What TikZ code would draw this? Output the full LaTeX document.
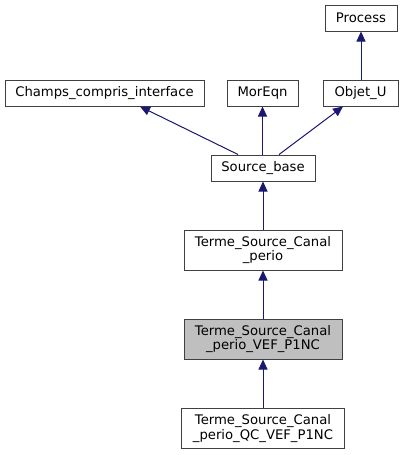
\documentclass[tikz,border=0pt]{standalone}
\usepackage{fontspec}
\setmainfont{DejaVu Sans}
\usetikzlibrary{arrows.meta}
\definecolor{edgeblue}{HTML}{191970}
\begin{document}
\begin{tikzpicture}[x=1pt,y=1pt,
  cls/.style={draw=black!75, line width=1pt, fill=white, inner sep=0pt, align=center,
    font=\fontsize{13.2}{14.5}\selectfont},
  one/.style={cls, minimum height=26pt},
  two/.style={cls, minimum height=40pt},
  inh/.style={draw=edgeblue, line width=1pt, {Triangle[width=9pt,length=10pt,fill=edgeblue]}-}]
\useasboundingbox (0,0) rectangle (403,-455);
\node[one, minimum width=72pt] (process) at (361,-18) {Process};
\node[one, minimum width=199pt] (champs) at (104.5,-93) {Champs\_compris\_interface};
\node[one, minimum width=71pt] (moreqn) at (262.5,-93) {MorEqn};
\node[one, minimum width=75pt] (objet) at (360.5,-93) {Objet\_U};
\node[one, minimum width=104pt] (sb) at (263,-168) {Source\_base};
\node[two, minimum width=158pt] (tsc) at (263,-250) {Terme\_Source\_Canal\\\_perio};
\node[two, minimum width=158pt, fill=black!25] (vef) at (263,-339) {Terme\_Source\_Canal\\\_perio\_VEF\_P1NC};
\node[two, minimum width=162.5pt] (qc) at (263,-428.7) {Terme\_Source\_Canal\\\_perio\_QC\_VEF\_P1NC};
\draw[inh] (process.south) -- (process.south |- objet.north);
\draw[inh] ([xshift=35.5pt]champs.south) -- ([xshift=-25pt]sb.north);
\draw[inh] (moreqn.south) -- (moreqn.south |- sb.north);
\draw[inh] ([xshift=-17.5pt]objet.south) -- ([xshift=16pt]sb.north);
\draw[inh] (sb.south) -- (tsc.north);
\draw[inh] (tsc.south) -- (vef.north);
\draw[inh] (vef.south) -- (qc.north);
\end{tikzpicture}
\end{document}
